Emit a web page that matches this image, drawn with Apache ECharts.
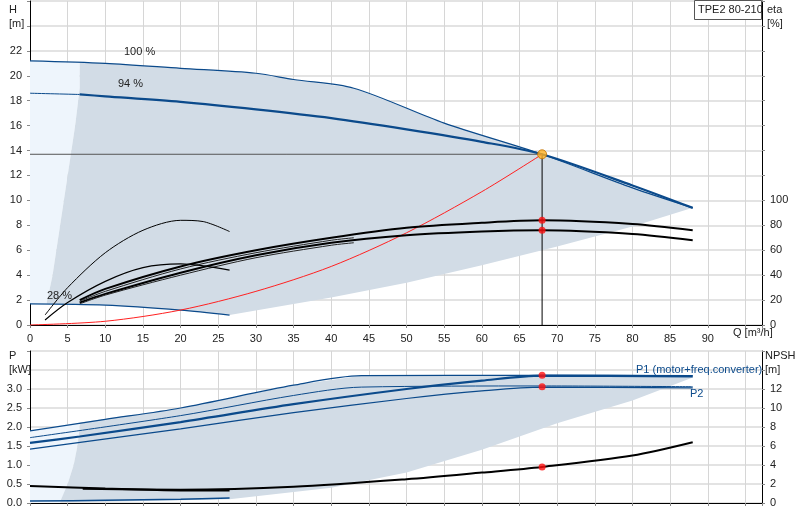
<!DOCTYPE html>
<html><head><meta charset="utf-8">
<script src="https://cdn.jsdelivr.net/npm/echarts@6/dist/echarts.min.js"></script>
<style>html,body{margin:0;padding:0;background:#fff}#c{width:800px;height:520px}</style>
</head><body><div id="c"></div>
<script>
// ---- data (Q in m3/h) ----
const qTicks = [0,5,10,15,20,25,30,35,40,45,50,55,60,65,70,75,80,85,90];
const h100 = [[0,21.2],[10,21],[20,20.6],[30,20.2],[35,19.7],[43,19],[55,16.2],[68,13.7],[80,11],[88,9.4]];
const h94thin = [[0,18.6],[6.6,18.5]];
const h94 = [[6.6,18.5],[10,18.35],[20,17.9],[30,17.3],[40,16.6],[50,15.7],[60,14.7],[68,13.7],[80,11.2],[88,9.4]];
const h28 = [[0,1.7],[10,1.6],[20,1.2],[26.5,0.8]];
const sysCurve = [[0,0],[10,0.3],[20,1.2],[30,2.7],[40,4.7],[50,7.4],[60,10.7],[68,13.7]];
const dutyH = [[0,13.7],[68,13.7]];
const dutyV = [[68,13.7],[68,0]];
// efficiency curves in % (right axis)
const etaA = [[6.6,20],[10,29],[20,47],[30,60],[40,70],[50,78],[60,82],[68,84],[80,81],[88,76]];
const etaB = [[6.6,18],[10,25],[20,42],[30,56],[40,66],[50,72],[60,75],[68,76],[80,73],[88,68]];
const etaC = [[6.6,19],[10,27],[20,45],[30,58],[40,68],[43,70]];
const etaD = [[6.6,17],[10,24],[20,40],[30,54],[40,64],[43,66]];
const eta28a = [[2,8],[5,30],[10,58],[15,76],[20,84],[23,83],[26.5,75]];
const eta28b = [[2,4],[5,18],[10,35],[15,46],[20,49],[26.5,44]];
const darkTop = [[6.6,21.05],[10,21],[20,20.6],[30,20.2],[35,19.7],[43,19],[55,16.2],[68,13.7],[80,11],[88,9.4],[80,7.9],[70,6.3],[60,4.8],[50,3.4],[40,2.2],[26.5,0.8],[20,1.2],[10,1.6],[2.2,1.7],[3,4],[4,8],[5,12],[6,16],[6.6,19]];
const lightTop = [[0,1.7],[0,21.2],[6.6,21.05],[6.6,19],[6,16],[5,12],[4,8],[3,4],[2.2,1.7]];
// power (kW)
const p1_100 = [[0,1.9],[10,2.2],[20,2.5],[35,3.1],[44,3.35],[68,3.36],[88,3.35]];
const p2_100 = [[0,1.72],[20,2.3],[35,2.83],[44,3.05],[68,3.08],[88,3.06]];
const p1_94 = [[0,1.58],[6.6,1.75],[20,2.13],[35,2.6],[50,3.0],[60,3.22],[68,3.35],[88,3.33]];
const p2_94 = [[0,1.42],[20,1.95],[35,2.38],[50,2.75],[60,2.95],[68,3.05],[88,3.03]];
const p28a = [[0,0.45],[10,0.38],[20,0.33],[26.5,0.33]];
const p28b = [[0,0.05],[10,0.07],[20,0.1],[26.5,0.13]];
const npsh = [[7,1.5],[20,1.4],[35,1.7],[50,2.5],[60,3.2],[68,3.8],[80,5],[88,6.4]];
const darkBot = [[6.6,2.12],[20,2.5],[35,3.1],[44,3.35],[88,3.35],[88,3.3],[80,2.7],[70,2.1],[60,1.4],[50,0.8],[40,0.4],[26.5,0.1],[10,0.03],[4,0.03],[5,0.5],[5.8,1.0],[6.3,1.5],[6.6,2.0]];
const lightBot = [[0,0],[0,1.9],[6.6,2.12],[6.6,2.0],[6.3,1.5],[5.8,1.0],[5,0.5],[4,0]];

const blue='#0b4a8b', shade='#d2dce6', light='#eef5fc';
function poly(xi,yi,pts,color){return {type:'custom',xAxisIndex:xi,yAxisIndex:yi,silent:true,z:1,data:[0],
 renderItem:(p,api)=>({type:'polygon',shape:{points:pts.map(d=>api.coord(d))},style:{fill:color}})};}
function ln(xi,yi,data,color,w,z){return {type:'line',xAxisIndex:xi,yAxisIndex:yi,data,symbol:'none',smooth:0.3,silent:true,z:z||3,lineStyle:{color,width:w}};}
const gl={lineStyle:{color:'#d6d6d6'}};
const ax={axisLine:{show:true,onZero:false,lineStyle:{color:'#000'}},axisTick:{show:true,inside:false,length:3,lineStyle:{color:'#888'}},axisLabel:{color:'#222',fontSize:11,fontFamily:'Liberation Sans'}};
const ch=echarts.init(document.getElementById('c'));
ch.setOption({animation:false,
 grid:[{left:30,right:38,top:1,bottom:195},{left:30,right:38,top:351,bottom:17}],
 xAxis:[
  {type:'value',gridIndex:0,min:0,max:97.2,interval:5,splitLine:gl,...ax,axisLabel:{...ax.axisLabel,formatter:v=>v<=90?v:''}},
  {type:'value',gridIndex:1,min:0,max:97.2,interval:5,splitLine:gl,...ax,axisLabel:{show:false}}],
 yAxis:[
  {type:'value',gridIndex:0,min:0,max:26,interval:2,splitLine:{lineStyle:{color:'#e3e3e3',width:2}},...ax,axisLabel:{...ax.axisLabel,formatter:v=>v<=22?v:''}},
  {type:'value',gridIndex:0,position:'right',min:0,max:260,interval:20,splitLine:{show:false},...ax,axisLabel:{...ax.axisLabel,formatter:v=>v<=100?v:''}},
  {type:'value',gridIndex:1,min:0,max:4,interval:0.5,splitLine:{lineStyle:{color:'#e3e3e3',width:2}},...ax,axisLabel:{...ax.axisLabel,formatter:v=>v<=3.0?v.toFixed(1):''}},
  {type:'value',gridIndex:1,position:'right',min:0,max:16,interval:2,splitLine:{show:false},...ax,axisLabel:{...ax.axisLabel,formatter:v=>v<=12?v:''}}],
 series:[
  poly(0,0,lightTop,light),poly(0,0,darkTop,shade),
  poly(1,2,lightBot,light),poly(1,2,darkBot,shade),
  ln(0,0,h100,blue,1.2),ln(0,0,h94thin,blue,1),ln(0,0,h94,blue,2.2),ln(0,0,h28,blue,1.2),
  ln(0,0,sysCurve,'#ff2020',1),
  {type:'line',xAxisIndex:0,yAxisIndex:0,data:dutyH,symbol:'none',silent:true,lineStyle:{color:'#555',width:1},z:2},
  {type:'line',xAxisIndex:0,yAxisIndex:0,data:dutyV,symbol:'none',silent:true,lineStyle:{color:'#000',width:1},z:2},
  ln(0,1,etaA,'#000',2),ln(0,1,etaB,'#000',2),ln(0,1,etaC,'#222',1),ln(0,1,etaD,'#222',1),
  ln(0,1,eta28a,'#000',1),ln(0,1,eta28b,'#000',1.2),
  {type:'scatter',xAxisIndex:0,yAxisIndex:0,data:[[68,13.7]],symbolSize:9,itemStyle:{color:'#ffb020',borderColor:'#c07000'},z:5},
  {type:'scatter',xAxisIndex:0,yAxisIndex:1,data:[[68,84],[68,76]],symbolSize:7,itemStyle:{color:'#ff1010'},z:5},
  ln(1,2,p1_100,blue,1.2),ln(1,2,p2_100,blue,1),ln(1,2,p1_94,blue,2.2),ln(1,2,p2_94,blue,1.2),
  ln(1,2,p28a,'#000',2),ln(1,2,p28b,blue,1.5),
  ln(1,3,npsh,'#000',2),
  {type:'scatter',xAxisIndex:1,yAxisIndex:2,data:[[68,3.36],[68,3.06]],symbolSize:7,itemStyle:{color:'#ff1010'},z:5},
  {type:'scatter',xAxisIndex:1,yAxisIndex:3,data:[[68,3.8]],symbolSize:7,itemStyle:{color:'#ff1010'},z:5}
 ],
 graphic:[
  {type:'text',left:9,top:3,style:{text:'H\n[m]',fontSize:11,fill:'#222',align:'center',lineHeight:14,fontFamily:'Liberation Sans'}},
  {type:'text',left:767,top:3,style:{text:'eta\n[%]',fontSize:11,fill:'#222',lineHeight:14,fontFamily:'Liberation Sans'}},
  {type:'rect',left:694,top:0,shape:{width:67,height:19},style:{fill:'#fff',stroke:'#555'},z:10},
  {type:'text',left:698,top:4,style:{text:'TPE2 80-210',fontSize:11,fill:'#222',fontFamily:'Liberation Sans'},z:11},
  {type:'text',left:124,top:46,style:{text:'100 %',fontSize:11,fill:'#222',fontFamily:'Liberation Sans'},z:11},
  {type:'text',left:118,top:78,style:{text:'94 %',fontSize:11,fill:'#222',fontFamily:'Liberation Sans'},z:11},
  {type:'text',left:47,top:290,style:{text:'28 %',fontSize:11,fill:'#222',fontFamily:'Liberation Sans'},z:11},
  {type:'text',left:733,top:327,style:{text:'Q [m³/h]',fontSize:11,fill:'#222',fontFamily:'Liberation Sans'},z:11},
  {type:'text',left:9,top:349,style:{text:'P\n[kW]',fontSize:11,fill:'#222',align:'center',lineHeight:14,fontFamily:'Liberation Sans'}},
  {type:'text',left:765,top:349,style:{text:'NPSH\n[m]',fontSize:11,fill:'#222',lineHeight:14,fontFamily:'Liberation Sans'}},
  {type:'text',left:636,top:364,style:{text:'P1 (motor+freq.converter)',fontSize:11,fill:'#0b4a8b',fontFamily:'Liberation Sans'},z:11},
  {type:'text',left:690,top:388,style:{text:'P2',fontSize:11,fill:'#0b4a8b',fontFamily:'Liberation Sans'},z:11}
 ]});
</script></body></html>
